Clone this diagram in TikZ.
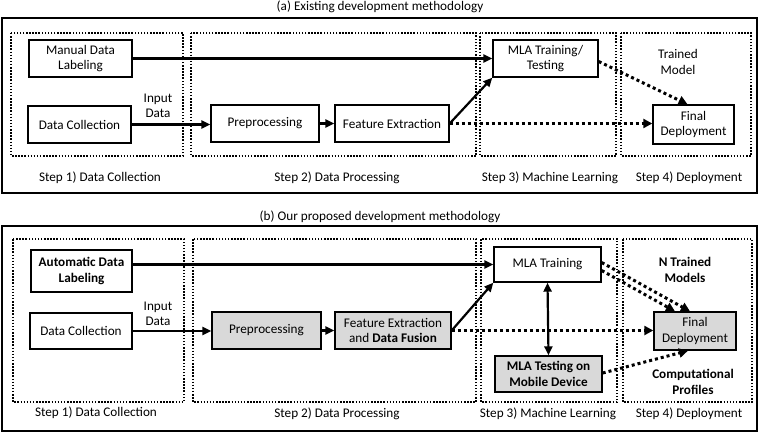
\documentclass[tikz,border=0pt]{standalone}
\usepackage{fontspec}
\setmainfont{Carlito}
\usetikzlibrary{arrows.meta}
\begin{document}
\begin{tikzpicture}[x=1pt,y=-1pt,
  font=\fontsize{13.2}{15.5}\selectfont,
  box/.style={draw=black,line width=1.4pt,fill=white,align=center,inner sep=1pt},
  gbox/.style={box,fill=black!15},
  stepbox/.style={draw=black,line width=1.5pt,dash pattern=on 1.5pt off 1.6pt},
  outer/.style={draw=black,line width=2pt},
  arr/.style={line width=2.2pt,-{Triangle[length=9pt,width=8pt]}},
  darr/.style={line width=2.2pt,{Triangle[length=9pt,width=8pt]}-{Triangle[length=9pt,width=8pt]}},
  dotarr/.style={line width=3pt,dash pattern=on 3pt off 3pt,-{Triangle[length=9pt,width=9pt]}},
  lbl/.style={align=center,inner sep=0pt}
]
\useasboundingbox (0,0) rectangle (760,433);

% ===== Panel (a) =====
\node[lbl] (ta) at (380,7) {(a) Existing development methodology};
\draw[outer] (1.5,18) rectangle (757,193);
\draw[stepbox] (11,33) rectangle (183,156);
\draw[stepbox] (191,33) rectangle (476,156);
\draw[stepbox] (480,33) rectangle (616,156);
\draw[stepbox] (621,33) rectangle (751,156);
\node[lbl] (s1a) at (100,178) {Step 1) Data Collection};
\node[lbl] (s2a) at (337,178) {Step 2) Data Processing};
\node[lbl] (s3a) at (550,178) {Step 3) Machine Learning};
\node[lbl] (s4a) at (689,178) {Step 4) Deployment};

\node[box,minimum width=103,minimum height=37] (mdl) at (80.5,58.5) {Manual Data\\Labeling};
\node[box,minimum width=103,minimum height=37] (dca) at (79.5,124.5) {Data Collection};
\node[lbl] (ida) at (158,106) {Input\\Data};
\node[box,minimum width=108,minimum height=37] (ppa) at (265,123.5) {Preprocessing};
\node[box,minimum width=114,minimum height=37] (fea) at (392,123.5) {Feature Extraction};
\node[box,minimum width=105,minimum height=37] (mla) at (545.5,58.5) {MLA Training/\\Testing};
\node[box,minimum width=81,minimum height=39] (fda) at (693.5,124.5) {Final\\Deployment};
\node[lbl] (tm) at (678,62) {Trained\\Model};

\draw[arr] (mdl.east) -- (mla.west |- mdl.east);
\draw[arr] (dca.east) -- (ppa.west |- dca.east);
\draw[arr] (ppa.east) -- (fea.west);
\draw[arr] (fea.east) -- (mla.south west);
\draw[dotarr] (fea.east) -- (fda.west |- fea.east);
\draw[dotarr] ([yshift=-3]mla.east) -- ([xshift=-6]fda.north);

% ===== Panel (b) =====
\node[lbl] (tb) at (380,217) {(b) Our proposed development methodology};
\draw[outer] (1.5,226) rectangle (757,431);
\draw[stepbox] (13,239) rectangle (184,402);
\draw[stepbox] (193,239) rectangle (476,402);
\draw[stepbox] (481,239) rectangle (617,402);
\draw[stepbox] (623,239) rectangle (752,402);
\node[lbl] (s1b) at (96,413) {Step 1) Data Collection};
\node[lbl] (s2b) at (337,414) {Step 2) Data Processing};
\node[lbl] (s3b) at (548,414) {Step 3) Machine Learning};
\node[lbl] (s4b) at (689,414) {Step 4) Deployment};

\node[box,minimum width=101,minimum height=42,font=\fontsize{13.2}{15.5}\selectfont\bfseries] (adl) at (81.5,271) {Automatic Data\\Labeling};
\node[box,minimum width=102,minimum height=36] (dcb) at (81,331) {Data Collection};
\node[lbl] (idb) at (158,314) {Input\\Data};
\node[gbox,minimum width=109,minimum height=37] (ppb) at (266.5,330.5) {Preprocessing};
\node[gbox,minimum width=116,minimum height=37] (feb) at (393,330.5) {Feature Extraction\\and \textbf{Data Fusion}};
\node[box,minimum width=107,minimum height=35] (mlt) at (547.5,264.5) {MLA Training};
\node[gbox,minimum width=107,minimum height=36,font=\fontsize{13.2}{15.5}\selectfont\bfseries] (mts) at (548.5,374) {MLA Testing on\\Mobile Device};
\node[gbox,minimum width=82,minimum height=38] (fdb) at (695,331) {Final\\Deployment};
\node[lbl,font=\fontsize{13.2}{15.5}\selectfont\bfseries] (ntm) at (685,270) {N Trained\\Models};
\node[lbl,font=\fontsize{13.2}{15.5}\selectfont\bfseries] (cpf) at (693,382) {Computational\\Profiles};

\draw[arr] (adl.east |- mlt.west) -- (mlt.west);
\draw[arr] (dcb.east) -- (ppb.west |- dcb.east);
\draw[arr] (ppb.east) -- (feb.west);
\draw[arr] (feb.east) -- (mlt.south west);
\draw[dotarr] (feb.east) -- (fdb.west |- feb.east);
\draw[darr] (mlt.south) -- (mts.north);
\draw[dotarr] ([yshift=-6]mlt.east) -- ([xshift=-20]fdb.north);
\draw[dotarr] ([yshift=2]mlt.east) -- ([xshift=-5]fdb.north);
\draw[dotarr] ([yshift=1]mts.east) -- ([xshift=-7]fdb.south);
\end{tikzpicture}
\end{document}
